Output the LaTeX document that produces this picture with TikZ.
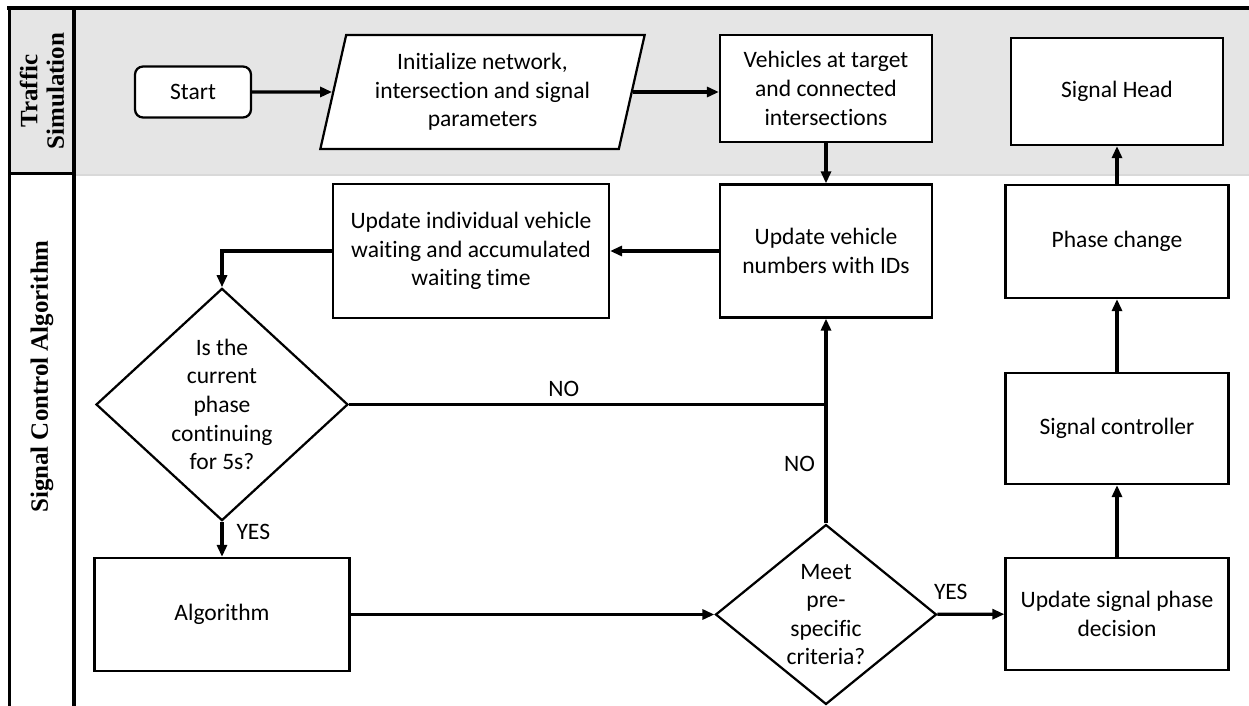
\documentclass[tikz,border=0pt]{standalone}
\usepackage{fontspec}
\setmainfont[Ligatures={NoCommon,NoContextual}]{Carlito}
\newfontfamily\lanefont{Liberation Serif}
\usetikzlibrary{shapes.geometric,arrows.meta}

\begin{document}
\begin{tikzpicture}[x=0.02cm, y=-0.02cm,
		font=\fontsize{13.4}{16.3}\selectfont,
		box/.style={draw, line width=0.45mm, fill=white, align=center, inner sep=2pt},
		decide/.style={diamond, draw, line width=0.45mm, fill=white, align=center, inner sep=0pt},
		conn/.style={line width=0.65mm, -{Triangle[length=2.4mm, width=2mm]}},
		lane/.style={rotate=90, align=center, font=\lanefont\bfseries\fontsize{14.2}{15}\selectfont}]
			%%%%% START %%%%%
			\useasboundingbox (0, 0) rectangle (1249, 706);
			
			% lanes
			\fill[gray!20] (9.5, 8) rectangle (1249, 175);
			\draw[gray!30, line width=0.3mm] (76, 175) -- (1249, 175);
			\draw[line width=0.8mm] (7, 8) -- (1249, 8);
			\draw[line width=0.6mm] (9.5, 8) -- (9.5, 706);
			\draw[line width=0.7mm] (74, 8) -- (74, 706);
			\draw[line width=0.6mm] (9.5, 173.5) -- (74, 173.5);
			\node[lane] (simlane) at (42, 91) {Traffic\\Simulation};
			\node[lane] (ctrllane) at (42, 376.5) {Signal Control Algorithm};
			
			% traffic simulation
			\node[box, rounded corners=0.16cm, minimum width=2.32cm, minimum height=1.02cm] (start) at (193, 92) {Start};
			\node[box, trapezium, trapezium left angle=76, trapezium right angle=104, trapezium stretches=true,
				minimum width=6.5cm, minimum height=2.28cm] (init) at (482.5, 92) {Initialize network,\\intersection and signal\\parameters};
			\node[box, minimum width=4.24cm, minimum height=2.14cm] (veh) at (826, 88.5) {Vehicles at target\\and connected\\intersections};
			\node[box, minimum width=4.24cm, minimum height=2.14cm] (head) at (1117, 91.5) {Signal Head};
			
			% signal control
			\node[box, minimum width=4.24cm, minimum height=2.66cm] (upd) at (826, 251) {Update vehicle\\numbers with IDs};
			\node[box, minimum width=5.52cm, minimum height=2.68cm] (wait) at (471, 251) {Update individual vehicle\\waiting and accumulated\\waiting time};
			\node[decide, minimum width=5.04cm, minimum height=4.22cm] (q1) at (222, 404.5) {Is the\\current\\phase\\continuing\\for 5s?};
			\node[box, minimum width=5.1cm, minimum height=2.26cm] (algo) at (222, 614.5) {Algorithm};
			\node[decide, minimum width=4.42cm, minimum height=3.44cm] (q2) at (826, 614.5) {Meet\\pre-\\specific\\criteria?};
			\node[box, minimum width=4.46cm, minimum height=2.24cm] (dec) at (1117, 614) {Update signal phase\\decision};
			\node[box, minimum width=4.46cm, minimum height=2.22cm] (ctrl) at (1117, 428.5) {Signal controller};
			\node[box, minimum width=4.46cm, minimum height=2.26cm] (phase) at (1117, 241.5) {Phase change};
			
			% connectors
			\draw[conn] (start) -- (init);
			\draw[conn] (init.east) -- (init.east -| veh.west);
			\draw[conn] (veh) -- (upd);
			\draw[conn] (upd) -- (wait);
			\draw[conn] (wait.west) -| (q1.north);
			\coordinate (jn) at (q1.east -| q2.north);
			\draw[line width=0.65mm] (q1.east) -- node[above, pos=0.45] {NO} (jn);
			\draw[conn] (q2.north) -- node[left, pos=0.29, xshift=-2pt] {NO} (upd.south);
			\draw[conn] (q1.south) -- node[right, pos=0.3, xshift=4pt] {YES} (algo.north);
			\draw[conn] (algo) -- (q2);
			\draw[conn] (q2) -- node[above, pos=0.2, yshift=4pt] {YES} (dec);
			\draw[conn] (dec) -- (ctrl);
			\draw[conn] (ctrl) -- (phase);
			\draw[conn] (phase) -- (head);
			%%%%% END %%%%%
\end{tikzpicture}
\end{document}
